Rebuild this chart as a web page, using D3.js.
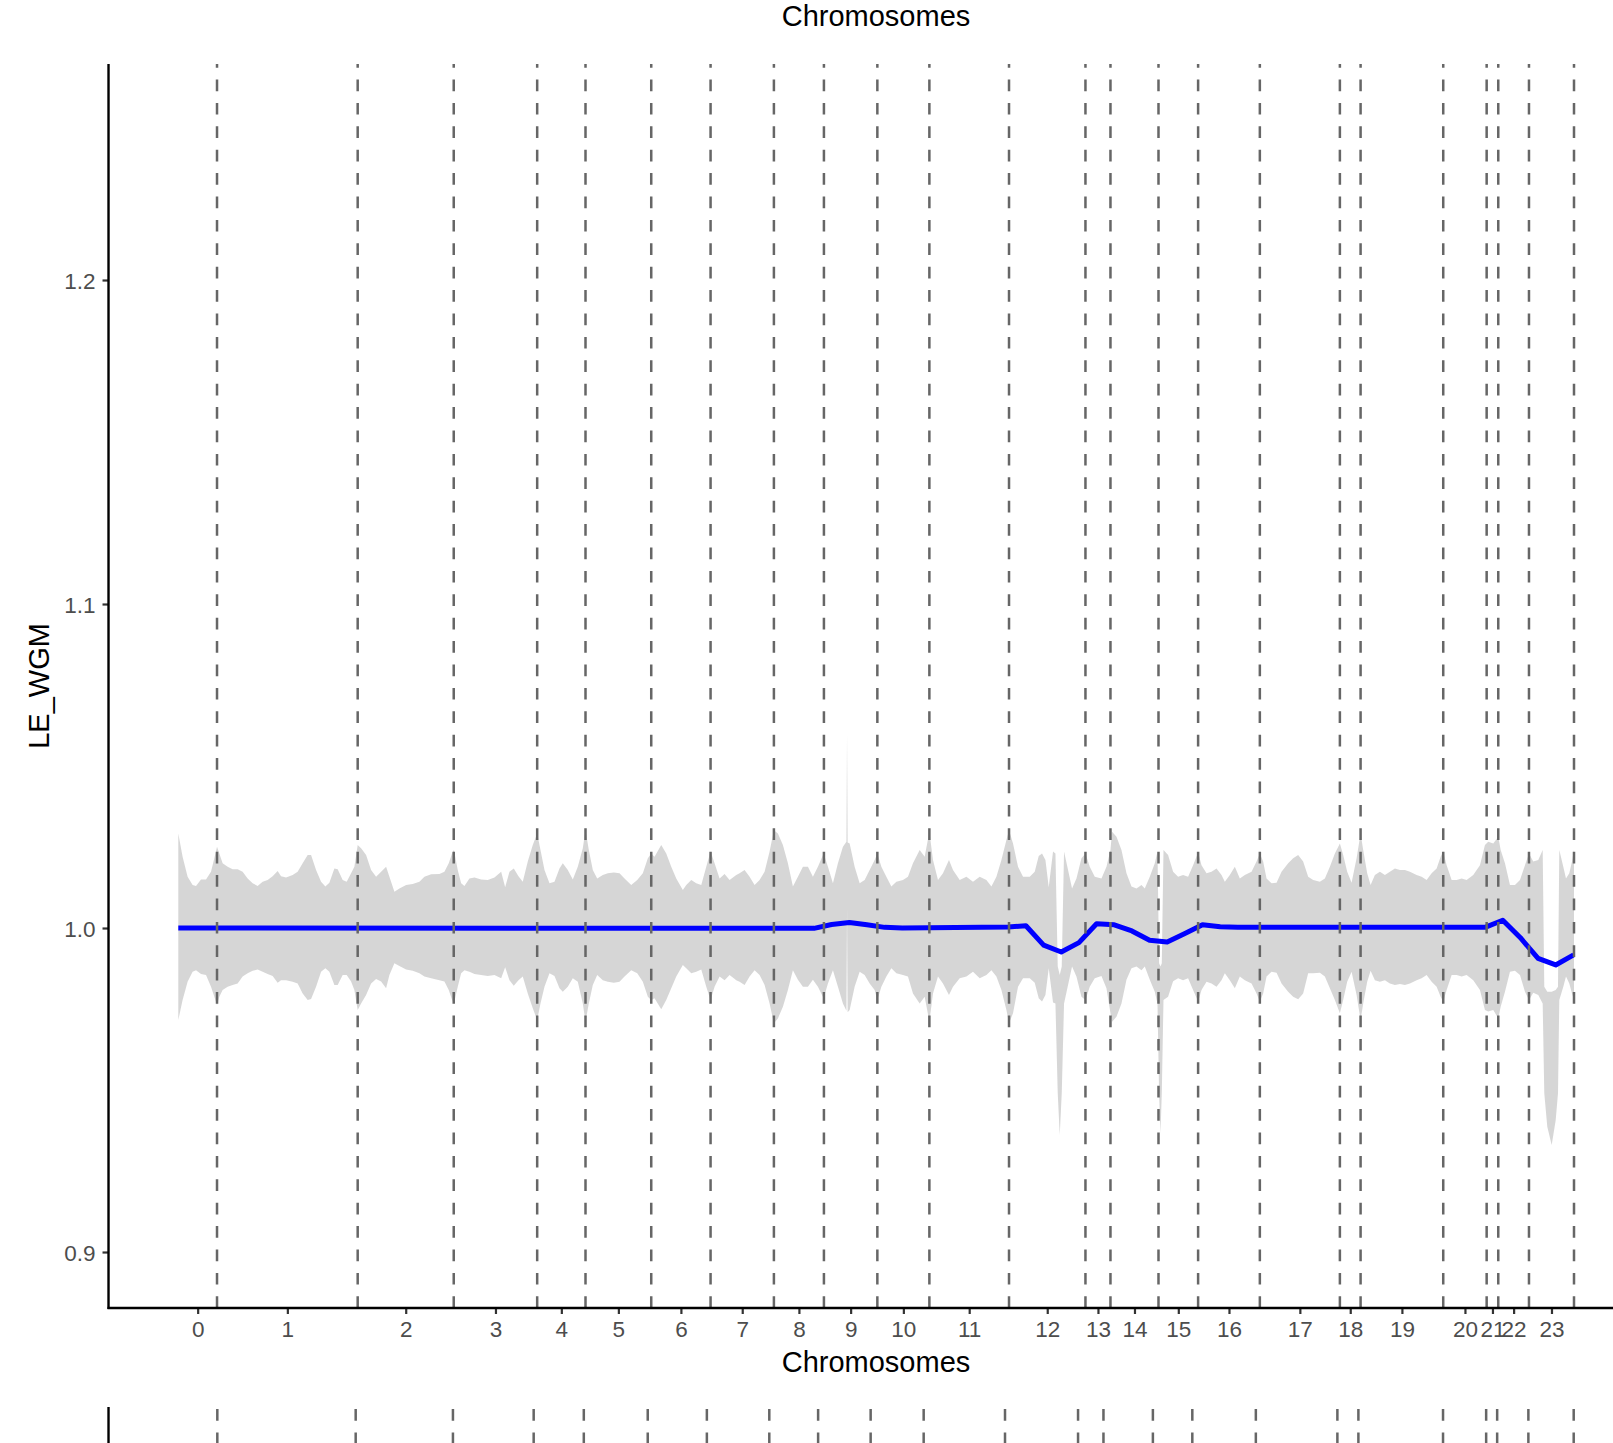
<!DOCTYPE html>
<html><head><meta charset="utf-8">
<script src="https://cdn.jsdelivr.net/npm/d3@7"></script>
<style>
body{margin:0;background:#fff}
svg{display:block}
text{font-family:"Liberation Sans",Arial,Helvetica,sans-serif}
</style>
</head><body>
<svg id="c" width="1613" height="1443"></svg>
<script>
// ---- data ----
const chromosomes = ["0","1","2","3","4","5","6","7","8","9","10","11","12","13","14","15","16","17","18","19","20","21","22","23"];
// cumulative chromosome end positions (genome position units)
const chromEnds = [38.7,179.3,275.3,358.7,407,472.7,532,595.3,645.3,698.7,750.7,830.3,906.7,931.7,979.7,1019.3,1081,1161,1181.7,1264.3,1307.7,1319.3,1350,1395];
// chromosome ends of the next (partially visible) panel
const bottomChromEnds = [39,177.3,274.5,355.2,405.3,469.2,528.3,590.7,639.5,692,745,826.3,899.3,924.7,974.1,1013.5,1077,1158.5,1179.5,1264.1,1307.2,1318.2,1349.4,1394.7];
const yTickValues = [0.9,1.0,1.1,1.2];
const yTickLabels = ["0.9","1.0","1.1","1.2"];

// smoothed LE_WGM line
const smoothPos = [0,617.7,635.4,653,670.7,688.3,706,723.6,829.6,847.2,864.9,882.5,900.2,917.8,935.5,953.1,970.8,988.4,1006.1,1023.7,1041.4,1059,1306.1,1323.8,1341.4,1359.1,1376.7,1394.6];
const smoothVal = [1.0000,0.9999,0.9999,1.0011,1.0017,1.0010,1.0002,1.0000,1.0003,1.0007,0.9947,0.9926,0.9955,1.0013,1.0010,0.9991,0.9962,0.9957,0.9983,1.0010,1.0004,1.0002,1.0002,1.0024,0.9970,0.9906,0.9886,0.9917];

// ribbon (confidence band)
const ribbonPos = [
0,4.3,9.3,14.3,17.7,22.7,27.7,32.7,36,38.7,
41,44.3,49.3,54.3,59.3,64.3,69.3,74.3,79.3,84.3,
89.3,94.3,99.3,102.7,107.7,114.3,119.3,124.3,129.3,132.7,
137.7,142.7,147,151,156,159.3,164.3,168.3,172.7,176,
179.3,182.7,187.7,192.7,197.7,202.7,207.7,211,216,221,
227.7,234.3,241,246,252.7,261,266,270.3,273.7,275.5,
279.3,282.7,286,291,296,302.7,309.3,316,322.7,326.7,
331,335.3,340,344.3,349.3,354.3,358.7,362,366,371,
376,381,384.3,389.3,394.3,399.3,404.3,407,410.3,414.3,
418.7,424.3,429.3,435.3,441,446,452.7,458.7,464.3,469.3,
472.7,476,482.7,487.7,492.7,497.7,504.3,507.7,512.7,517.7,
522.7,527.7,532,536,541,546,551,557.7,561,566,
571,576,581,586,591,595.3,599.3,604.3,609.3,614.3,
619.3,624.3,629.3,634.3,639.3,645,649.3,654.3,659.3,664.3,
667.8,668.4,669,671,676,681,686,691,696,698.7,
702.7,707.7,712.7,717.7,724.3,729.3,734.3,741,746,750.7,
754.3,759.3,764.3,770.3,774.3,781,787.7,794.3,801,807.7,
812.7,817.7,822.7,827.7,830.3,834.3,839.3,844.3,851,856,
860,863.3,866.7,870,874.3,876.7,879,881,883,885.3,
889.3,893.3,897.7,902.7,906.7,911,916,922.7,927.7,931.7,
933.3,937.7,942.7,947.7,952.7,957.7,962.7,966,971,976,
978.7,980.3,981.7,983,984.7,989.3,994.3,999.3,1004.3,1009.3,
1014.3,1019.3,1022.7,1027.7,1032.7,1037.7,1042.7,1046,1051,1056,
1061,1066,1072.7,1077.7,1081,1084.3,1087.7,1092.7,1097.7,1102.7,
1109.3,1114.3,1119.3,1124.3,1129.3,1134.3,1141,1146,1151,1156,
1161,1164.3,1168.3,1172.7,1177.7,1181.7,1184.3,1188.3,1191.7,1196,
1201,1206,1211,1216,1221,1226,1231,1237.7,1242.7,1247.7,
1252.7,1257.7,1261.7,1264.3,1267.7,1272.7,1277.7,1282.7,1287.7,1294.3,
1301,1306,1309.3,1314.3,1319.3,1321.7,1326,1331,1336,1341,
1346,1350,1354.3,1359.3,1363.7,1365.3,1368.3,1372.7,1376.7,1379,
1380.3,1384.3,1387,1390.3,1393,1395];
const ribbonUpper = [
1.0292,1.0220,1.0158,1.0133,1.0130,1.0150,1.0150,1.0174,1.0215,1.0251,
1.0230,1.0200,1.0189,1.0181,1.0181,1.0174,1.0153,1.0138,1.0130,1.0143,
1.0148,1.0160,1.0176,1.0160,1.0156,1.0164,1.0174,1.0200,1.0225,1.0225,
1.0179,1.0143,1.0128,1.0140,1.0184,1.0181,1.0148,1.0143,1.0169,1.0189,
1.0256,1.0246,1.0225,1.0179,1.0158,1.0174,1.0189,1.0158,1.0112,1.0122,
1.0133,1.0136,1.0143,1.0158,1.0166,1.0167,1.0174,1.0200,1.0231,1.0241,
1.0179,1.0138,1.0130,1.0153,1.0156,1.0150,1.0148,1.0156,1.0174,1.0126,
1.0174,1.0184,1.0160,1.0143,1.0205,1.0256,1.0292,1.0241,1.0179,1.0138,
1.0143,1.0184,1.0200,1.0179,1.0150,1.0189,1.0246,1.0302,1.0241,1.0179,
1.0153,1.0164,1.0169,1.0171,1.0169,1.0153,1.0133,1.0148,1.0169,1.0215,
1.0230,1.0220,1.0256,1.0230,1.0189,1.0153,1.0117,1.0133,1.0148,1.0138,
1.0133,1.0189,1.0236,1.0200,1.0153,1.0167,1.0148,1.0164,1.0169,1.0179,
1.0158,1.0133,1.0148,1.0174,1.0236,1.0302,1.0292,1.0256,1.0200,1.0128,
1.0158,1.0189,1.0189,1.0158,1.0189,1.0230,1.0189,1.0138,1.0200,1.0251,
1.0266,1.0599,1.0264,1.0261,1.0189,1.0138,1.0148,1.0179,1.0210,1.0230,
1.0189,1.0158,1.0128,1.0143,1.0148,1.0158,1.0200,1.0241,1.0220,1.0297,
1.0210,1.0148,1.0169,1.0210,1.0179,1.0148,1.0158,1.0143,1.0158,1.0148,
1.0128,1.0158,1.0210,1.0272,1.0302,1.0261,1.0189,1.0158,1.0158,1.0174,
1.0222,1.0230,1.0210,1.0126,1.0236,1.0230,0.9881,0.9855,0.9881,1.0236,
1.0179,1.0122,1.0153,1.0215,1.0230,1.0189,1.0158,1.0153,1.0189,1.0241,
1.0297,1.0282,1.0241,1.0169,1.0128,1.0122,1.0133,1.0122,1.0158,1.0200,
1.0236,0.9891,0.9881,0.9891,1.0241,1.0225,1.0174,1.0158,1.0164,1.0158,
1.0194,1.0233,1.0194,1.0169,1.0174,1.0184,1.0164,1.0143,1.0164,1.0189,
1.0153,1.0164,1.0174,1.0205,1.0230,1.0205,1.0153,1.0138,1.0140,1.0174,
1.0200,1.0215,1.0225,1.0205,1.0158,1.0148,1.0143,1.0153,1.0189,1.0230,
1.0261,1.0225,1.0174,1.0140,1.0215,1.0292,1.0241,1.0169,1.0133,1.0164,
1.0174,1.0164,1.0174,1.0184,1.0179,1.0179,1.0174,1.0164,1.0158,1.0148,
1.0169,1.0184,1.0220,1.0236,1.0194,1.0148,1.0148,1.0153,1.0148,1.0164,
1.0194,1.0256,1.0266,1.0261,1.0282,1.0241,1.0200,1.0133,1.0133,1.0148,
1.0194,1.0230,1.0205,1.0210,1.0241,0.9819,0.9803,0.9803,0.9809,0.9819,
1.0241,1.0189,1.0153,1.0169,1.0205,1.0241];
const ribbonLower = [
0.9716,0.9778,0.9834,0.9865,0.9870,0.9858,0.9855,0.9819,0.9788,0.9762,
0.9788,0.9809,0.9819,0.9824,0.9829,0.9850,0.9860,0.9868,0.9872,0.9865,
0.9858,0.9852,0.9831,0.9839,0.9839,0.9834,0.9829,0.9798,0.9778,0.9781,
0.9819,0.9865,0.9876,0.9865,0.9824,0.9824,0.9855,0.9855,0.9835,0.9809,
0.9747,0.9767,0.9793,0.9829,0.9843,0.9835,0.9814,0.9855,0.9891,0.9883,
0.9872,0.9868,0.9860,0.9850,0.9845,0.9839,0.9835,0.9809,0.9778,0.9767,
0.9819,0.9860,0.9870,0.9865,0.9858,0.9855,0.9852,0.9855,0.9845,0.9879,
0.9839,0.9822,0.9839,0.9850,0.9798,0.9752,0.9716,0.9767,0.9819,0.9860,
0.9852,0.9814,0.9803,0.9819,0.9845,0.9834,0.9767,0.9711,0.9767,0.9824,
0.9855,0.9839,0.9834,0.9831,0.9834,0.9850,0.9870,0.9860,0.9834,0.9788,
0.9778,0.9783,0.9749,0.9778,0.9814,0.9850,0.9886,0.9876,0.9860,0.9865,
0.9872,0.9819,0.9778,0.9819,0.9850,0.9839,0.9855,0.9839,0.9834,0.9824,
0.9850,0.9870,0.9855,0.9824,0.9767,0.9706,0.9721,0.9757,0.9809,0.9870,
0.9840,0.9819,0.9819,0.9840,0.9819,0.9783,0.9829,0.9870,0.9819,0.9767,
0.9745,1.0061,0.9740,0.9747,0.9819,0.9865,0.9855,0.9829,0.9809,0.9778,
0.9819,0.9850,0.9876,0.9860,0.9855,0.9850,0.9798,0.9767,0.9788,0.9711,
0.9798,0.9850,0.9829,0.9793,0.9819,0.9845,0.9850,0.9865,0.9845,0.9855,
0.9870,0.9850,0.9809,0.9747,0.9706,0.9737,0.9819,0.9845,0.9845,0.9831,
0.9783,0.9773,0.9793,0.9876,0.9770,0.9767,0.9490,0.9361,0.9490,0.9767,
0.9824,0.9881,0.9850,0.9788,0.9778,0.9819,0.9845,0.9852,0.9814,0.9737,
0.9711,0.9726,0.9767,0.9840,0.9876,0.9881,0.9870,0.9881,0.9840,0.9803,
0.9767,0.9490,0.9366,0.9490,0.9778,0.9788,0.9836,0.9845,0.9839,0.9845,
0.9809,0.9773,0.9809,0.9834,0.9829,0.9819,0.9839,0.9860,0.9839,0.9814,
0.9850,0.9839,0.9829,0.9798,0.9773,0.9798,0.9850,0.9865,0.9862,0.9829,
0.9803,0.9788,0.9780,0.9798,0.9860,0.9860,0.9862,0.9850,0.9814,0.9778,
0.9737,0.9778,0.9834,0.9865,0.9793,0.9716,0.9767,0.9834,0.9868,0.9839,
0.9834,0.9839,0.9829,0.9824,0.9827,0.9824,0.9829,0.9839,0.9845,0.9855,
0.9834,0.9819,0.9788,0.9773,0.9809,0.9855,0.9855,0.9850,0.9855,0.9839,
0.9809,0.9747,0.9742,0.9747,0.9721,0.9757,0.9803,0.9865,0.9868,0.9855,
0.9803,0.9778,0.9800,0.9793,0.9767,0.9490,0.9387,0.9330,0.9407,0.9490,
0.9778,0.9819,0.9850,0.9829,0.9798,0.9778];

// ---- drawing ----
const svg = d3.select("#c");
const genomeLen = chromEnds[chromEnds.length-1];
const x = d3.scaleLinear().domain([0, genomeLen]).range([178.3, 1574]);
const y = d3.scaleLinear().domain([0.88272, 1.26667]).range([1308, 64]);
const panelLeft = x(-0.05*genomeLen);
const panelTop = y.range()[1], panelBottom = y.range()[0];

// top (cut) title of the panel above
svg.append("text").attr("x", 876).attr("y", 26).attr("text-anchor","middle")
  .attr("font-size", 29).attr("fill","#000").text("Chromosomes");

// ribbon
const idx = d3.range(ribbonPos.length);
svg.append("path")
  .attr("d", d3.area().x(i => x(ribbonPos[i])).y0(i => y(ribbonLower[i])).y1(i => y(ribbonUpper[i]))(idx))
  .attr("fill", "#999999").attr("fill-opacity", 0.4);

// smooth line
const sIdx = d3.range(smoothPos.length);
svg.append("path")
  .attr("d", d3.line().x(i => x(smoothPos[i])).y(i => y(smoothVal[i]))(sIdx))
  .attr("fill","none").attr("stroke","#0000ff").attr("stroke-width",5)
  .attr("stroke-linejoin","round");

// chromosome boundary lines (drawn from bottom upwards)
svg.append("g").selectAll("line").data(chromEnds).join("line")
  .attr("x1", d => x(d)).attr("x2", d => x(d))
  .attr("y1", panelBottom).attr("y2", panelTop)
  .attr("stroke","#666666").attr("stroke-width",2.5)
  .attr("stroke-dasharray","11.7 11.7");

// axes
const starts = [0].concat(chromEnds.slice(0,-1));
const mids = chromEnds.map((e,i) => (starts[i]+e)/2);
const gx = svg.append("g").attr("transform",`translate(0,${panelBottom})`)
  .call(d3.axisBottom(x).tickValues(mids).tickFormat((d,i) => chromosomes[i]).tickSize(6).tickPadding(7));
gx.select(".domain").remove();
gx.selectAll(".tick line").attr("stroke","#333333").attr("stroke-width",2.2);
gx.selectAll(".tick text").attr("fill","#4d4d4d").attr("font-size",22.5)
  .attr("font-family",'"Liberation Sans",Arial,Helvetica,sans-serif');

const gy = svg.append("g").attr("transform",`translate(${panelLeft},0)`)
  .call(d3.axisLeft(y).tickValues(yTickValues).tickFormat((d,i) => yTickLabels[i]).tickSize(6).tickPadding(7));
gy.select(".domain").remove();
gy.selectAll(".tick line").attr("stroke","#333333").attr("stroke-width",2.2);
gy.selectAll(".tick text").attr("fill","#4d4d4d").attr("font-size",22.5).attr("dy","0.36em")
  .attr("font-family",'"Liberation Sans",Arial,Helvetica,sans-serif');

svg.append("line").attr("x1",panelLeft).attr("x2",panelLeft).attr("y1",panelTop).attr("y2",panelBottom+1)
  .attr("stroke","#000").attr("stroke-width",2.4);
svg.append("line").attr("x1",panelLeft-1).attr("x2",1613).attr("y1",panelBottom).attr("y2",panelBottom)
  .attr("stroke","#000").attr("stroke-width",2.4);

// axis titles
svg.append("text").attr("x",876).attr("y",1372).attr("text-anchor","middle")
  .attr("font-size",29).attr("fill","#000").text("Chromosomes");
svg.append("text").attr("transform",`translate(49,${(panelTop+panelBottom)/2}) rotate(-90)`)
  .attr("text-anchor","middle").attr("font-size",29).attr("fill","#000").text("LE_WGM");

// next panel (cut off at the bottom)
svg.append("line").attr("x1",panelLeft).attr("x2",panelLeft).attr("y1",1407).attr("y2",1443)
  .attr("stroke","#000").attr("stroke-width",2.4);
svg.append("g").selectAll("line").data(bottomChromEnds).join("line")
  .attr("x1", d => x(d)).attr("x2", d => x(d))
  .attr("y1", 1409).attr("y2", 1443)
  .attr("stroke","#666666").attr("stroke-width",2.5)
  .attr("stroke-dasharray","11.7 11.7");
</script>
</body></html>
